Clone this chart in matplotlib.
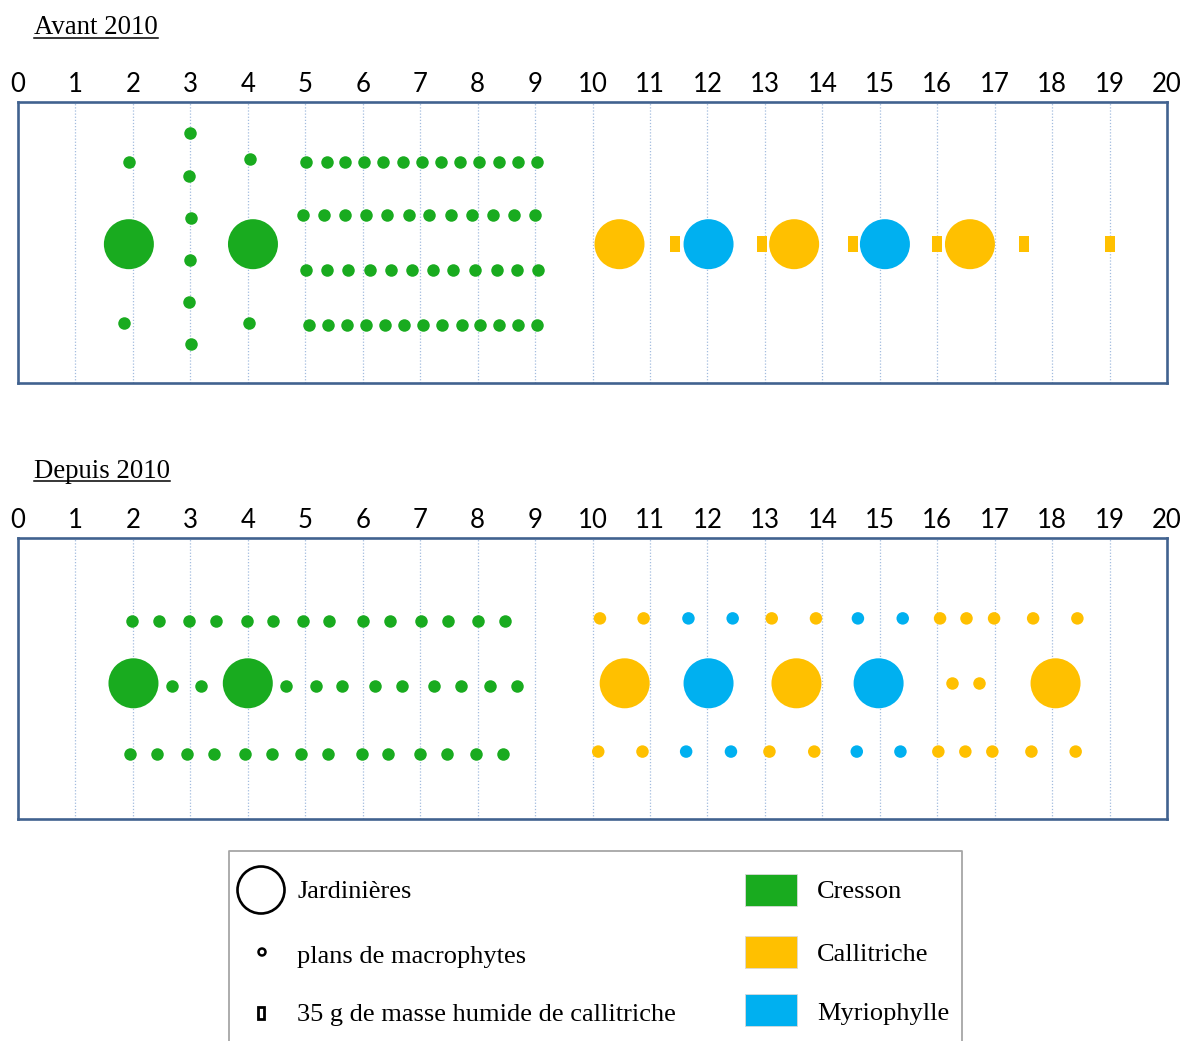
import matplotlib
matplotlib.use("Agg")
import matplotlib.pyplot as plt
from matplotlib.patches import Rectangle
from matplotlib.lines import Line2D

# ---------------- data ----------------
species = ["Cresson", "Callitriche", "Myriophylle"]
species_colors = ["#19AB1F", "#FFC000", "#00B0F0"]
x_ticks = list(range(0, 21))

# Avant 2010 : jardinieres (big circles)
avant_jard_x = [1.93, 4.09, 10.47, 12.02, 13.51, 15.09, 16.57]
avant_jard_y = [4.94, 4.94, 4.94, 4.94, 4.94, 4.94, 4.94]
avant_jard_sp = ["Cresson", "Cresson", "Callitriche", "Myriophylle",
                 "Callitriche", "Myriophylle", "Callitriche"]

# Avant 2010 : plants (small dots, all cresson)
avant_col_x = [1.93, 1.85, 3.00, 2.98, 3.02, 3.00, 2.98, 3.02, 4.03, 4.02]
avant_col_y = [7.86, 2.12, 8.89, 7.38, 5.88, 4.39, 2.89, 1.39, 7.98, 2.12]
avant_row1_x = [5.02, 5.37, 5.70, 6.03, 6.36, 6.70, 7.03, 7.36, 7.70, 8.03, 8.37, 8.70, 9.03]
avant_row2_x = [4.96, 5.32, 5.70, 6.06, 6.43, 6.80, 7.16, 7.53, 7.90, 8.26, 8.63, 9.00]
avant_row3_x = [5.02, 5.38, 5.75, 6.12, 6.49, 6.86, 7.22, 7.58, 7.96, 8.33, 8.69, 9.06]
avant_row4_x = [5.06, 5.40, 5.72, 6.06, 6.39, 6.72, 7.05, 7.38, 7.72, 8.05, 8.37, 8.71, 9.04]
avant_rows_y = [7.88, 5.97, 4.03, 2.06]

# Avant 2010 : 35 g callitriche (small rectangles)
avant_masse_x = [11.43, 12.95, 14.54, 15.99, 17.51, 19.01]
avant_masse_y = [4.94, 4.94, 4.94, 4.94, 4.94, 4.94]

# Depuis 2010 : jardinieres
depuis_jard_x = [2.01, 4.00, 10.56, 12.02, 13.55, 14.98, 18.06]
depuis_jard_y = [4.84, 4.84, 4.84, 4.84, 4.84, 4.84, 4.84]
depuis_jard_sp = ["Cresson", "Cresson", "Callitriche", "Myriophylle",
                  "Callitriche", "Myriophylle", "Callitriche"]

# Depuis 2010 : cresson plants
dep_green_top_x = [1.99, 2.45, 2.97, 3.44, 3.98, 4.44, 4.96, 5.42, 6.01, 6.48, 7.02, 7.49, 8.00, 8.47]
dep_green_mid_x = [2.68, 3.19, 4.66, 5.18, 5.64, 6.22, 6.69, 7.24, 7.71, 8.22, 8.69]
dep_green_bot_x = [1.95, 2.42, 2.94, 3.41, 3.95, 4.42, 4.93, 5.40, 5.98, 6.44, 6.99, 7.46, 7.97, 8.44]
dep_green_rows_y = [7.07, 4.74, 2.32]

# Depuis 2010 : callitriche / myriophylle plants
dep_right_top_x = [10.13, 10.89, 11.67, 12.44, 13.12, 13.89, 14.62, 15.40, 16.05, 16.51, 16.99, 17.67, 18.44]
dep_right_bot_x = [10.10, 10.87, 11.63, 12.41, 13.08, 13.86, 14.60, 15.36, 16.02, 16.49, 16.96, 17.64, 18.41]
dep_right_sp = ["Callitriche", "Callitriche", "Myriophylle", "Myriophylle",
                "Callitriche", "Callitriche", "Myriophylle", "Myriophylle",
                "Callitriche", "Callitriche", "Callitriche", "Callitriche", "Callitriche"]
dep_right_rows_y = [7.15, 2.41]
dep_right_mid_x = [16.26, 16.73]
dep_right_mid_y = [4.84, 4.84]

legend_shapes = ["Jardinières", "plans de macrophytes", "35 g de masse humide de callitriche"]

# ---------------- figure ----------------
W, H = 1186, 1041
fig = plt.figure(figsize=(W / 100, H / 100), dpi=100)
col = dict(zip(species, species_colors))
FRAME = "#41628F"
GRID = "#A3BCDF"
SERIF = "Liberation Serif"

BIG_S = (50 * 0.72) ** 2
DOT_S = (12.5 * 0.72) ** 2
RECT_MARK = [(-5, -8), (5, -8), (5, 8), (-5, 8), (-5, -8)]
RECT_S = (15.7 * 0.72) ** 2


def fy(y):
    return 1 - y / H


def make_axes(bottom_px):
    ax = fig.add_axes([18 / W, fy(bottom_px), 1149 / W, 281 / H])
    ax.set_xlim(0, 20)
    ax.set_ylim(0, 10)
    ax.set_xticks(x_ticks)
    ax.set_xticklabels([str(t) for t in x_ticks], family="Lato", fontsize=18.5)
    ax.xaxis.tick_top()
    ax.tick_params(axis="x", length=0, pad=3.5)
    ax.set_yticks([])
    for s in ax.spines.values():
        s.set_color(FRAME)
        s.set_linewidth(1.9)
    for x in x_ticks[1:-1]:
        ax.axvline(x, color=GRID, ls=(0, (1, 1.5)), lw=0.9, zorder=0)
    return ax


ax1 = make_axes(383)
ax2 = make_axes(819.3)

# ----- Avant 2010 -----
ax1.scatter(avant_jard_x, avant_jard_y, s=BIG_S, c=[col[s] for s in avant_jard_sp],
            linewidths=0, zorder=3)
ax1.scatter(avant_col_x, avant_col_y, s=DOT_S, c=col["Cresson"], linewidths=0, zorder=3)
for xs, yv in zip([avant_row1_x, avant_row2_x, avant_row3_x, avant_row4_x], avant_rows_y):
    ax1.scatter(xs, [yv] * len(xs), s=DOT_S, c=col["Cresson"], linewidths=0, zorder=3)
ax1.scatter(avant_masse_x, avant_masse_y, s=RECT_S, marker=RECT_MARK,
            c=col["Callitriche"], linewidths=0, zorder=3)

# ----- Depuis 2010 -----
ax2.scatter(depuis_jard_x, depuis_jard_y, s=BIG_S, c=[col[s] for s in depuis_jard_sp],
            linewidths=0, zorder=3)
for xs, yv in zip([dep_green_top_x, dep_green_mid_x, dep_green_bot_x], dep_green_rows_y):
    ax2.scatter(xs, [yv] * len(xs), s=DOT_S, c=col["Cresson"], linewidths=0, zorder=3)
for xs, yv in zip([dep_right_top_x, dep_right_bot_x], dep_right_rows_y):
    ax2.scatter(xs, [yv] * len(xs), s=DOT_S, c=[col[s] for s in dep_right_sp],
                linewidths=0, zorder=3)
ax2.scatter(dep_right_mid_x, dep_right_mid_y, s=DOT_S, c=col["Callitriche"],
            linewidths=0, zorder=3)

# ----- titles (underlined) -----
titles = []
titles.append(fig.text(34 / W, fy(34.3), "Avant 2010", family=SERIF, fontsize=19.3, va="baseline"))
titles.append(fig.text(34 / W, fy(477.5), "Depuis 2010", family=SERIF, fontsize=19.3, va="baseline"))

# ----- legend in pixel coordinates -----
lax = fig.add_axes([0, 0, 1, 1])
lax.set_xlim(0, W)
lax.set_ylim(H, 0)
lax.axis("off")
lax.patch.set_visible(False)

BORDER = "#A6A6A6"
lax.add_line(Line2D([228.5, 228.5, 961.5, 961.5], [1045, 851, 851, 1045], color=BORDER, lw=1.3))

lax.scatter([261], [890], s=(47 * 0.72) ** 2, facecolors="none", edgecolors="black", linewidths=1.9)
lax.scatter([262], [952], s=(7 * 0.72) ** 2, facecolors="none", edgecolors="black", linewidths=1.8)
lax.add_patch(Rectangle((258, 1007), 6, 12, facecolor="none", edgecolor="black", lw=2.0))

shape_y = [892, 957, 1015]
for label, yv in zip(legend_shapes, shape_y):
    lax.text(297, yv, label, family=SERIF, fontsize=19, va="center", ha="left")

sp_y = [890, 952, 1010]
text_y = [892, 955, 1014]
for name, c, yv, ty in zip(species, species_colors, sp_y, text_y):
    lax.add_patch(Rectangle((745, yv - 16), 52, 32, facecolor=c, edgecolor="#D9D9D9", lw=0.6))
    lax.text(817, ty, name, family=SERIF, fontsize=19, va="center", ha="left")

# underline titles
fig.canvas.draw()
r = fig.canvas.get_renderer()
for t in titles:
    bb = t.get_window_extent(renderer=r)
    _, base_y = t.get_position()
    ypix = base_y * H - 3.5
    lax.add_line(Line2D([bb.x0, bb.x1], [H - ypix, H - ypix], color="black", lw=1.1))

fig.savefig("out.png", dpi=100)
